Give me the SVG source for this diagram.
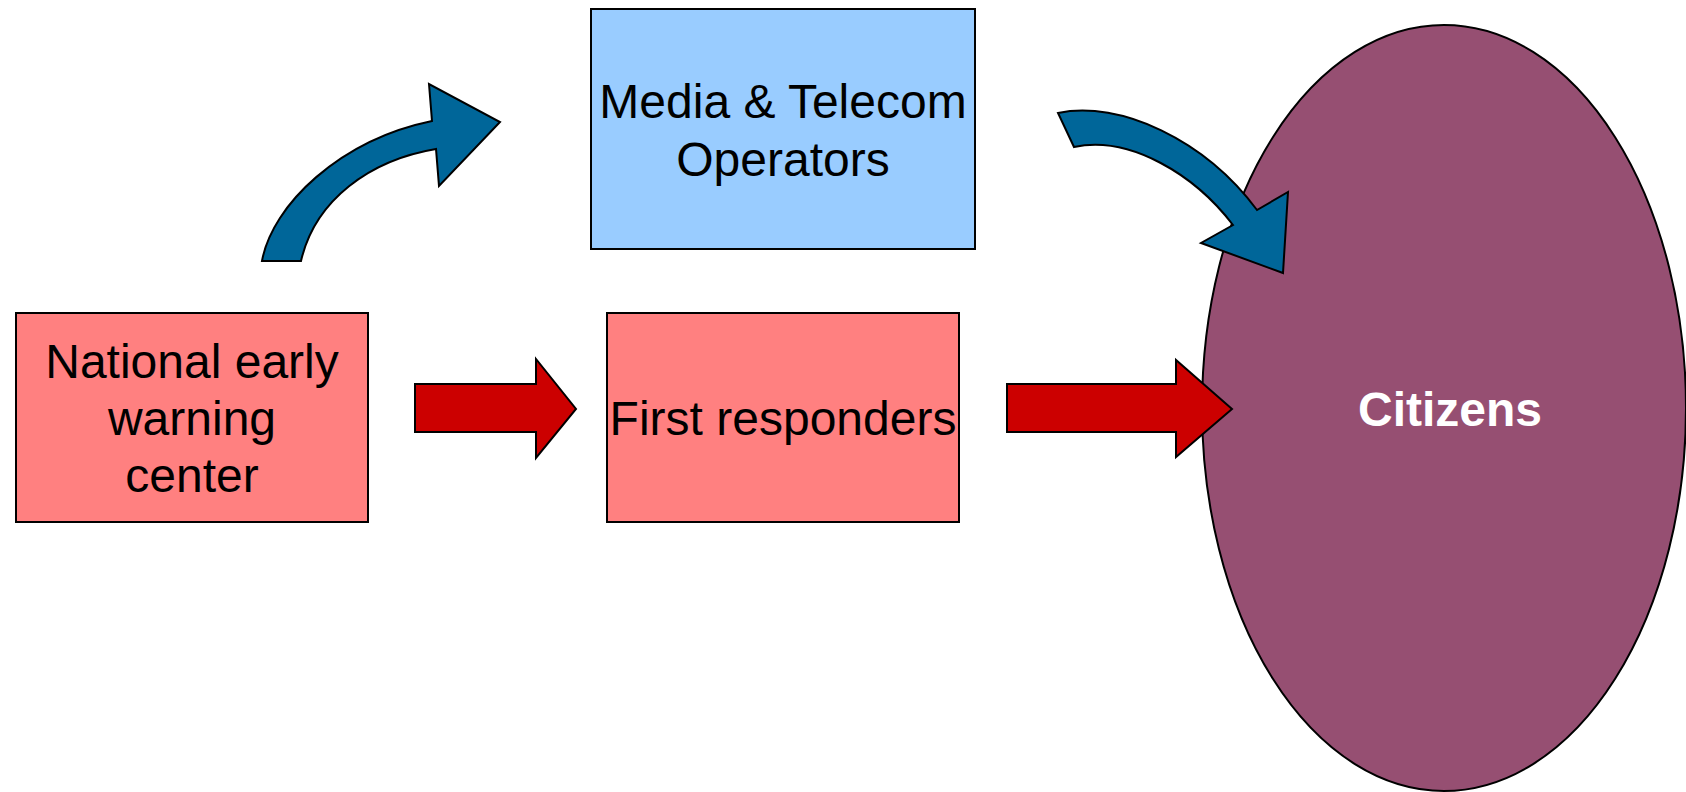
<svg xmlns="http://www.w3.org/2000/svg" width="1686" height="792" viewBox="0 0 1686 792">
<style>
.box{stroke:#000;stroke-width:2}
.lbl{font-family:"Liberation Sans",Arial,sans-serif;font-size:48px;fill:#000;text-anchor:middle}
.red{fill:#cc0000;stroke:#000;stroke-width:2;stroke-linejoin:miter}
.blue{fill:#006699;stroke:#000;stroke-width:2;stroke-linejoin:miter}
</style>
<rect width="1686" height="792" fill="#fff"/>
<g id="nodes">
<g id="newc">
<rect class="box" x="16" y="313" width="352" height="209" fill="#ff8080"/>
<text class="lbl" x="192" y="378">National early</text>
<text class="lbl" x="192" y="435">warning</text>
<text class="lbl" x="192" y="492">center</text>
</g>
<g id="media">
<rect class="box" x="591" y="9" width="384" height="240" fill="#99ccff"/>
<text class="lbl" x="783" y="118">Media &amp; Telecom</text>
<text class="lbl" x="783" y="176">Operators</text>
</g>
<g id="responders">
<rect class="box" x="607" y="313" width="352" height="209" fill="#ff8080"/>
<text class="lbl" x="783" y="435">First responders</text>
</g>
<g id="citizens">
<ellipse cx="1444" cy="408" rx="242" ry="383" fill="#964f72" stroke="#000" stroke-width="2"/>
<text class="lbl" x="1450" y="426" style="fill:#fff;font-weight:bold">Citizens</text>
</g>
</g>
<g id="connectors">
<path class="red" d="M415,384 L536,384 L536,359 L576,409 L536,458 L536,432 L415,432 Z"/>
<path class="red" d="M1007,384 L1176,384 L1176,360 L1232,409 L1176,457 L1176,432 L1007,432 Z"/>
<path class="blue" d="M262,261 C272,205 340,140 432,121 L429,84 L500,122 L439,186 L436,149 C370,160 315,200 301,261 Z"/>
<path class="blue" d="M1058,113 C1120,100 1205,140 1257,210 L1288,192 L1283,273 L1201,243 L1233,225 C1195,175 1130,135 1074,147 Z"/>
</g>
</svg>
